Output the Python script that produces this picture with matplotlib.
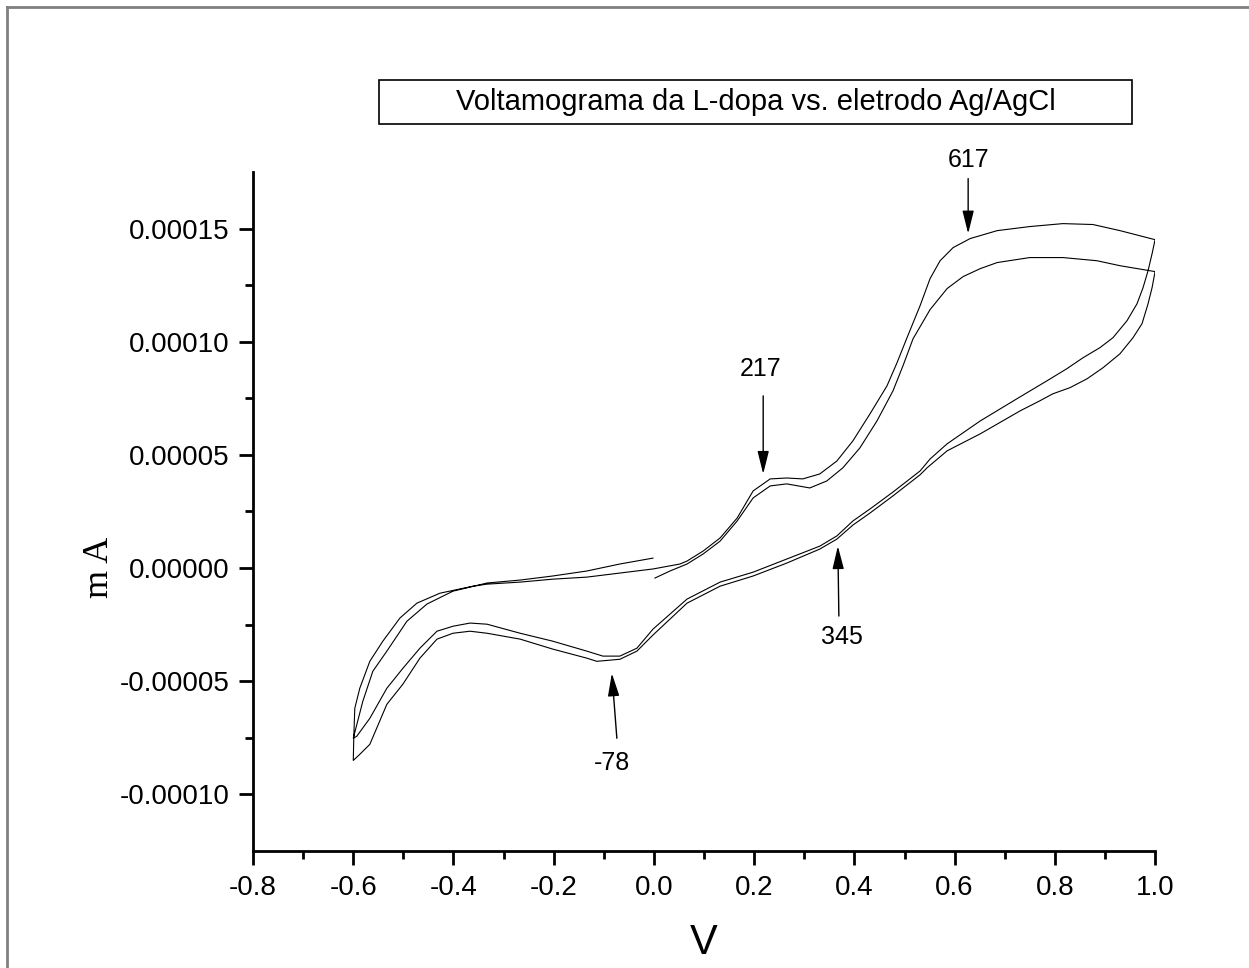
import matplotlib
matplotlib.use("Agg")
import matplotlib.pyplot as plt
import numpy as np
from matplotlib.ticker import FormatStrFormatter
from matplotlib.patches import Rectangle
from matplotlib.lines import Line2D

plt.rcParams['font.family'] = ['Liberation Sans', 'DejaVu Sans']
plt.rcParams['axes.unicode_minus'] = False

# current values in units of 1e-5 (mA as written on the axis)
scale = 1e-5

# scan 1, forward (0 V -> 1 V)
v_fwd1 = [0.002, 0.032, 0.066, 0.098, 0.132, 0.166, 0.198, 0.232, 0.265, 0.311, 0.345, 0.377,
          0.411, 0.445, 0.477, 0.497, 0.517, 0.551, 0.585, 0.617, 0.651, 0.685, 0.750, 0.816,
          0.884, 0.930, 1.0]
i_fwd1 = [-0.44, -0.13, 0.18, 0.62, 1.19, 2.08, 3.10, 3.63, 3.72, 3.54, 3.85, 4.43,
          5.31, 6.50, 7.83, 8.94, 10.13, 11.42, 12.35, 12.88, 13.23, 13.50, 13.72, 13.72,
          13.58, 13.36, 13.10]

# scan 1, reverse (1 V -> -0.6 V)
v_rev1 = [1.0, 0.994, 0.986, 0.974, 0.956, 0.930, 0.896, 0.864, 0.830, 0.796, 0.770, 0.731,
          0.651, 0.585, 0.545, 0.531, 0.477, 0.431, 0.397, 0.365, 0.331, 0.265, 0.198, 0.132,
          0.066, -0.002, -0.034, -0.068, -0.114, -0.134, -0.202, -0.267, -0.333, -0.367,
          -0.401, -0.433, -0.467, -0.501, -0.533, -0.567, -0.587, -0.6]
i_rev1 = [13.10, 12.39, 11.68, 10.80, 10.18, 9.47, 8.85, 8.36, 7.97, 7.70, 7.39, 6.95,
          5.93, 5.18, 4.43, 4.12, 3.19, 2.43, 1.90, 1.28, 0.84, 0.22, -0.35, -0.80,
          -1.55, -2.96, -3.67, -4.03, -4.12, -3.98, -3.58, -3.14, -2.88, -2.79,
          -2.88, -3.14, -3.98, -5.13, -6.02, -7.79, -8.23, -8.50]

# scan 2, forward (-0.6 V -> 1 V)
v_fwd2 = [-0.6, -0.599, -0.597, -0.587, -0.567, -0.541, -0.507, -0.473, -0.427, -0.361, -0.333,
          -0.267, -0.202, -0.134, -0.068, -0.002, 0.052, 0.066, 0.098, 0.132, 0.166, 0.198,
          0.232, 0.265, 0.297, 0.331, 0.365, 0.397, 0.431, 0.465, 0.485, 0.505, 0.531, 0.551,
          0.571, 0.597, 0.631, 0.685, 0.750, 0.816, 0.876, 0.930, 1.0]
i_fwd2 = [-8.50, -7.52, -6.20, -5.31, -4.12, -3.23, -2.21, -1.55, -1.11, -0.80, -0.71,
          -0.62, -0.49, -0.40, -0.22, -0.04, 0.18, 0.31, 0.75, 1.33, 2.21, 3.41,
          3.94, 3.98, 3.94, 4.16, 4.73, 5.62, 6.81, 8.05, 9.07, 10.18, 11.59, 12.79,
          13.58, 14.16, 14.56, 14.91, 15.09, 15.22, 15.18, 14.91, 14.51]

# scan 2, reverse (1 V -> -0.6 V)
v_rev2 = [1.0, 0.994, 0.986, 0.976, 0.964, 0.944, 0.916, 0.890, 0.856, 0.824, 0.784, 0.731,
          0.651, 0.585, 0.551, 0.531, 0.477, 0.431, 0.397, 0.365, 0.331, 0.265, 0.198, 0.132,
          0.066, -0.002, -0.034, -0.068, -0.102, -0.134, -0.202, -0.267, -0.333, -0.367,
          -0.401, -0.433, -0.467, -0.501, -0.533, -0.567, -0.593, -0.6]
i_rev2 = [14.51, 13.89, 13.14, 12.39, 11.68, 10.93, 10.18, 9.74, 9.29, 8.81, 8.27, 7.57,
          6.50, 5.49, 4.82, 4.29, 3.36, 2.61, 2.08, 1.42, 0.97, 0.40, -0.18, -0.62,
          -1.37, -2.70, -3.54, -3.89, -3.89, -3.67, -3.23, -2.88, -2.48, -2.43,
          -2.57, -2.79, -3.54, -4.43, -5.31, -6.64, -7.43, -7.52]

# last half scan (-0.6 V -> 0 V)
v_fwd3 = [-0.6, -0.581, -0.561, -0.533, -0.493, -0.453, -0.401, -0.333, -0.267, -0.202,
          -0.134, -0.068, -0.002]
i_fwd3 = [-7.52, -5.89, -4.56, -3.67, -2.35, -1.59, -1.02, -0.66, -0.53, -0.35,
          -0.13, 0.18, 0.44]

peak_labels = ['617', '217', '345', '-78']

x_ticks = [-0.8, -0.6, -0.4, -0.2, 0.0, 0.2, 0.4, 0.6, 0.8, 1.0]
y_ticks = [-0.00010, -0.00005, 0.0, 0.00005, 0.00010, 0.00015]

v_all = np.concatenate([v_fwd1, v_rev1, v_fwd2, v_rev2, v_fwd3])
i_all = np.concatenate([i_fwd1, i_rev1, i_fwd2, i_rev2, i_fwd3]) * scale

fig = plt.figure(figsize=(12.49, 9.68), dpi=100)
ax = fig.add_axes([0.2026, 0.1209, 0.7222, 0.7014])

ax.plot(v_all, i_all, color='black', lw=0.8)

ax.set_xlim(-0.8, 1.0)
ax.set_ylim(-0.000125, 0.000175)
ax.set_xticks(x_ticks)
ax.set_xticks(np.arange(-0.7, 1.0, 0.2), minor=True)
ax.set_yticks(y_ticks)
ax.set_yticks([-0.000075, -0.000025, 0.000025, 0.000075, 0.000125], minor=True)
ax.xaxis.set_major_formatter(FormatStrFormatter('%.1f'))
ax.yaxis.set_major_formatter(FormatStrFormatter('%.5f'))

for s in ['top', 'right']:
    ax.spines[s].set_visible(False)
for s in ['left', 'bottom']:
    ax.spines[s].set_linewidth(2)
ax.tick_params(which='major', direction='out', length=10, width=2, labelsize=20, pad=7)
ax.tick_params(which='minor', direction='out', length=6, width=2)

# peak arrows
arrow = dict(arrowstyle='-|>,head_width=0.25,head_length=1.0', color='black', lw=1,
             mutation_scale=14, shrinkA=0, shrinkB=0)
ax.annotate('', xy=(0.627, 14.78e-5), xytext=(0.627, 17.21e-5), arrowprops=arrow, annotation_clip=False)
ax.text(0.627, 18.01e-5, peak_labels[0], ha='center', va='center', fontsize=18, clip_on=False)
ax.annotate('', xy=(0.218, 4.16e-5), xytext=(0.218, 7.61e-5), arrowprops=arrow)
ax.text(0.212, 8.81e-5, peak_labels[1], ha='center', va='center', fontsize=18)
ax.annotate('', xy=(0.367, 0.97e-5), xytext=(0.369, -2.12e-5), arrowprops=arrow)
ax.text(0.375, -3.05e-5, peak_labels[2], ha='center', va='center', fontsize=18)
ax.annotate('', xy=(-0.084, -4.65e-5), xytext=(-0.074, -7.52e-5), arrowprops=arrow)
ax.text(-0.084, -8.63e-5, peak_labels[3], ha='center', va='center', fontsize=18)

# title box
fig.add_artist(Rectangle((0.3034, 0.8719), 0.6029, 0.0455, transform=fig.transFigure,
                         fill=False, edgecolor='black', lw=1.2))
fig.text(756 / 1249, 1 - 102 / 968, 'Voltamograma da L-dopa vs. eletrodo Ag/AgCl',
         ha='center', va='center', fontsize=21)

fig.text(704 / 1249, 1 - 943 / 968, 'V', ha='center', va='center', fontsize=30)
fig.text(100 / 1249, 1 - 567 / 968, 'm A', ha='center', va='center', rotation=90,
         fontsize=26, family=['Liberation Serif', 'DejaVu Serif'])

# page frame
fig.add_artist(Line2D([7 / 1249, 7 / 1249], [0, 1 - 7 / 968], transform=fig.transFigure,
                      color='#808080', lw=2))
fig.add_artist(Line2D([7 / 1249, 1], [1 - 7 / 968, 1 - 7 / 968], transform=fig.transFigure,
                      color='#808080', lw=2))

fig.savefig('out.png', dpi=100)
